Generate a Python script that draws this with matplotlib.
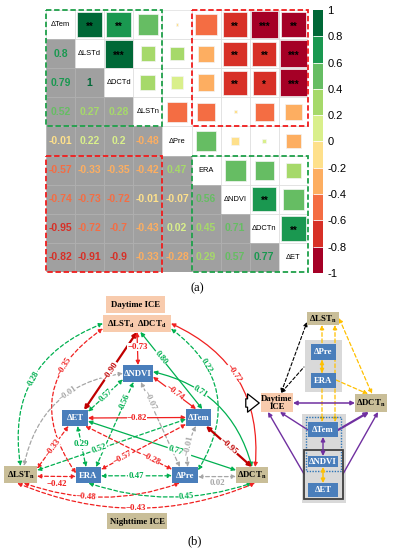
import numpy as np
import matplotlib.pyplot as plt
from matplotlib.colors import ListedColormap, BoundaryNorm
from matplotlib.colorbar import ColorbarBase
from matplotlib.patches import Rectangle, FancyArrowPatch

plt.rcParams['font.family'] = 'Liberation Sans'
plt.rcParams['mathtext.fontset'] = 'custom'
plt.rcParams['mathtext.rm'] = 'Liberation Serif:bold'
plt.rcParams['mathtext.bf'] = 'Liberation Serif:bold'
plt.rcParams['mathtext.it'] = 'Liberation Serif:bold'

# ---------------- (a) correlation matrix ----------------
variables = ['ΔTem', 'ΔLSTd', 'ΔDCTd', 'ΔLSTn', 'ΔPre', 'ERA', 'ΔNDVI', 'ΔDCTn', 'ΔET']
corr_lower = [
    [],
    [0.8],
    [0.79, 1],
    [0.52, 0.27, 0.28],
    [-0.01, 0.22, 0.2, -0.48],
    [-0.57, -0.33, -0.35, -0.42, 0.47],
    [-0.74, -0.73, -0.72, -0.01, -0.07, 0.56],
    [-0.95, -0.72, -0.7, -0.43, 0.02, 0.45, 0.71],
    [-0.82, -0.91, -0.9, -0.33, -0.28, 0.29, 0.57, 0.77],
]
signif = {(0, 1): '**', (0, 2): '**', (0, 6): '**', (0, 7): '***', (0, 8): '**',
          (1, 2): '***', (1, 6): '**', (1, 7): '**', (1, 8): '***',
          (2, 6): '**', (2, 7): '*', (2, 8): '***', (6, 7): '**', (7, 8): '**'}

# ---------------- (b) path diagram ----------------
path_pairs = [
    ('ET', 'day'), ('day', 'NDVI'), ('day', 'Tem'), ('NDVI', 'Tem'),
    ('NDVI', 'DCTn'), ('day', 'DCTn'), ('day', 'Pre'), ('day', 'LSTn'),
    ('day', 'ERA'), ('NDVI', 'LSTn'), ('NDVI', 'ET'), ('NDVI', 'ERA'),
    ('NDVI', 'Pre'), ('ET', 'Tem'), ('ET', 'DCTn'), ('Tem', 'DCTn'),
    ('Tem', 'Pre'), ('Tem', 'LSTn'), ('Tem', 'ERA'), ('ET', 'Pre'),
    ('ET', 'ERA'), ('ET', 'LSTn'), ('LSTn', 'ERA'), ('ERA', 'Pre'),
    ('Pre', 'DCTn'), ('LSTn', 'Pre'), ('ERA', 'DCTn'), ('LSTn', 'DCTn'),
]
path_values = [-0.90, -0.73, 0.80, -0.74, 0.71, -0.72, 0.22, 0.28,
               -0.35, -0.01, 0.57, 0.56, -0.07, -0.82, 0.77, -0.95,
               -0.01, 0.52, -0.57, -0.28, 0.29, -0.33, -0.42, 0.47,
               0.02, -0.48, 0.45, -0.43]
path_sig = [1, 1, 1, 1, 1, 1, 0, 0, 0, 0, 0, 0, 0, 1, 1, 1,
            0, 0, 0, 0, 0, 0, 0, 0, 0, 0, 0, 0]

# layout of the diagram (pixel space)
# (sideA, fracA, sideB, fracB, rad, label_t, rotate, label_dx, label_dy)
path_geom = [
    ('top', 0.85, 'bottom', 0.5, 0, 0.5, True, 0, 0),
    ('bottom', 0.5, 'top', 0.5, 0, 0.45, False, 0, 0),
    ('bottom', 0.55, 'top', 0.65, 0, 0.33, True, 0, 0),
    ('right', 0.7, 'top', 0.4, 0, 0.5, True, 0, 0),
    ('right', 0.4, 'top', 0.5, -0.3, 0.35, True, 0, 0),
    ('right', 0.5, 'top', 0.6, -0.35, 0.45, True, 0, 0),
    ('right', 0.8, 'right', 0.2, -0.45, 0.3, True, 0, 0),
    ('left', 0.5, 'top', 0.5, 0.4, 0.5, True, 0, 0),
    ('left', 0.8, 'left', 0.4, 0.5, 0.3, True, 0, 0),
    ('left', 0.5, 'top', 0.6, 0.35, 0.4, True, 0, 0),
    ('left', 0.85, 'right', 0.1, 0, 0.5, True, 0, 0),
    ('bottom', 0.35, 'top', 0.8, 0, 0.22, True, 0, 0),
    ('bottom', 0.6, 'top', 0.3, 0, 0.22, True, 0, 0),
    ('right', 0.5, 'left', 0.5, 0, 0.5, False, 0, 0),
    ('right', 0.7, 'left', 0.2, 0, 0.59, True, 0, 0),
    ('bottom', 0.8, 'top', 0.5, 0, 0.5, True, 0, 0),
    ('bottom', 0.4, 'top', 0.6, 0.15, 0.5, True, 0, 0),
    ('left', 0.6, 'right', 0.25, 0, 0.58, True, 0, 0),
    ('left', 0.9, 'right', 0.15, 0, 0.74, True, 0, 0),
    ('bottom', 0.9, 'left', 0.15, 0, 0.75, True, 0, 0),
    ('bottom', 0.6, 'top', 0.4, 0, 0.45, False, 0, 0),
    ('bottom', 0.25, 'right', 0.15, 0, 0.5, True, 0, 0),
    ('right', 0.6, 'left', 0.6, 0, 0.5, False, 0, 8),
    ('right', 0.55, 'left', 0.55, 0, 0.5, False, 0, 0),
    ('right', 0.6, 'left', 0.6, 0, 0.5, False, 0, 6),
    ('bottom', 0.6, 'bottom', 0.3, 0.18, 0.4, True, 0, 0),
    ('bottom', 0.5, 'bottom', 0.5, 0.17, 0.6, True, 0, 0),
    ('bottom', 0.4, 'bottom', 0.6, 0.21, 0.5, False, 0, 0),
]

PEACH, TAN, BLUE = '#f8cbad', '#c9be98', '#4a7ebb'
GREEN, RED, DARKRED, GRAY = '#00b050', '#f02020', '#c00000', '#a6a6a6'
PURPLE, GOLD = '#7030a0', '#ffc000'

# node boxes: x0, x1, y0, y1, face, text
boxes = {
    'dayICE': (106, 165, 296, 313, PEACH, 'Daytime ICE'),
    'day': (103, 171, 315, 332, PEACH, r'$\Delta$LST$_d$  $\Delta$DCT$_d$'),
    'NDVI': (123, 153, 365, 382, BLUE, 'ΔNDVI'),
    'ET': (62, 88, 410, 426, BLUE, 'ΔET'),
    'Tem': (186, 211, 409, 426, BLUE, 'ΔTem'),
    'LSTn': (4, 37, 466, 483, TAN, r'$\Delta$LST$_n$'),
    'ERA': (76, 101, 467, 483, BLUE, 'ERA'),
    'Pre': (172, 198, 467, 483, BLUE, 'ΔPre'),
    'DCTn': (236, 268, 467, 483, TAN, r'$\Delta$DCT$_n$'),
    'nightICE': (107, 167, 513, 529, TAN, 'Nighttime ICE'),
    'r_LSTn': (307, 339, 312, 325, TAN, r'$\Delta$LST$_n$'),
    'r_Pre': (311, 336, 344, 360, BLUE, 'ΔPre'),
    'r_ERA': (311, 336, 373, 388, BLUE, 'ERA'),
    'r_day': (261, 293, 393, 412, PEACH, 'Daytime\nICE'),
    'r_DCTn': (355, 387, 394, 412, TAN, r'$\Delta$DCT$_n$'),
    'r_Tem': (308, 338, 422, 437, BLUE, 'ΔTem'),
    'r_NDVI': (308, 338, 456, 467, BLUE, 'ΔNDVI'),
    'r_ET': (308, 338, 483, 497, BLUE, 'ΔET'),
}

W, H = 394, 550
fig = plt.figure(figsize=(W / 100, H / 100), dpi=100)

# ---------- diagram canvas ----------
ax = fig.add_axes([0, 0, 1, 1])
ax.set_xlim(0, W)
ax.set_ylim(H, 0)
ax.axis('off')
serif = 'Liberation Serif'


def anchor(name, side, f):
    x0, x1, y0, y1 = boxes[name][:4]
    if side == 'top':
        return (x0 + f * (x1 - x0), y0)
    if side == 'bottom':
        return (x0 + f * (x1 - x0), y1)
    if side == 'left':
        return (x0, y0 + f * (y1 - y0))
    return (x1, y0 + f * (y1 - y0))


def arrow(p1, p2, color, lw=0.9, ls='-', rad=0.0, style='<|-|>', z=2):
    a = FancyArrowPatch(p1, p2, arrowstyle=style, mutation_scale=6,
                        connectionstyle=f'arc3,rad={rad}', color=color, lw=lw,
                        linestyle=ls, shrinkA=0, shrinkB=0, zorder=z)
    ax.add_patch(a)


def curve_point(p1, p2, rad, t):
    P1 = ax.transData.transform(p1)
    P2 = ax.transData.transform(p2)
    d = P2 - P1
    C = (P1 + P2) / 2 + rad * np.array([d[1], -d[0]])
    B = (1 - t) ** 2 * P1 + 2 * (1 - t) * t * C + t ** 2 * P2
    tg = 2 * (1 - t) * (C - P1) + 2 * t * (P2 - C)
    ang = np.degrees(np.arctan2(tg[1], tg[0]))
    if ang > 90:
        ang -= 180
    if ang <= -90:
        ang += 180
    return ax.transData.inverted().transform(B), ang


for (a, b), v, sig, g in zip(path_pairs, path_values, path_sig, path_geom):
    sa, fa, sb, fb, rad, t, rot, ldx, ldy = g
    p1, p2 = anchor(a, sa, fa), anchor(b, sb, fb)
    if abs(v) < 0.1:
        col = GRAY
    elif v > 0:
        col = GREEN
    elif abs(v) >= 0.9:
        col = DARKRED
    else:
        col = RED
    lw = 1.6 if abs(v) >= 0.9 else 0.9
    ls = '-' if sig else (0, (3, 2))
    arrow(p1, p2, col, lw, ls, rad)
    pos, ang = curve_point(p1, p2, rad, t)
    txt = f'{v:.2f}'.replace('-', '−')
    ax.text(pos[0] + ldx, pos[1] + ldy, txt, color=col, fontsize=6.3, family=serif,
            fontweight='bold', rotation=ang if rot else 0, ha='center', va='center',
            rotation_mode='anchor', zorder=2.5,
            bbox=dict(fc='white', ec='none', pad=0.2))

# right-hand summary diagram: containers
ax.add_patch(Rectangle((305, 340), 37, 52, fc='#d9d9d9', ec='none', zorder=1))
ax.add_patch(Rectangle((302, 414), 44, 89, fc='#d9d9d9', ec='none', zorder=1))
ax.add_patch(Rectangle((306, 417), 35, 54, fc='none', ec='#2e75b6', lw=1.0,
                       ls=(0, (1, 1)), zorder=3.5))
ax.add_patch(Rectangle((304, 450), 39, 49, fc='none', ec='#404040', lw=1.3, zorder=3.5))

# right-hand summary diagram: links
arrow((281, 393), (307, 322), 'black', 0.8, (0, (3, 2)))
arrow((281, 393), (304, 367), 'black', 0.8, (0, (3, 2)), style='<|-')
arrow((293, 403), (355, 403), PURPLE, 1.1)
arrow((322, 325), (322, 422), GOLD, 0.9, (0, (3, 2)), z=1.5)
arrow((335, 325), (335, 422), GOLD, 0.9, (0, (3, 2)), z=1.5)
arrow((322, 360), (322, 373), GOLD, 0.9, (0, (2, 1)), z=3.5)
arrow((339, 318), (372, 394), GOLD, 0.9, (0, (3, 2)))
arrow((336, 380), (368, 394), GOLD, 0.9, (0, (3, 2)), style='-|>')
arrow((323, 437), (323, 456), PURPLE, 1.0, z=3.6)
arrow((323, 467), (323, 483), GOLD, 1.0, z=3.6)
arrow((280, 412), (308, 430), PURPLE, 1.0, style='<|-')
arrow((268, 412), (304, 474), PURPLE, 1.0, style='<|-')
arrow((369, 412), (338, 430), PURPLE, 1.6, style='<|-')
arrow((378, 412), (343, 474), PURPLE, 1.0, style='<|-')

ax.annotate('', xy=(262, 403), xytext=(243, 403),
            arrowprops=dict(arrowstyle='simple,head_length=0.7,head_width=1.1,tail_width=0.5',
                            fc='white', ec='black', lw=0.9, mutation_scale=12))

for name, (x0, x1, y0, y1, fc, label) in boxes.items():
    ax.add_patch(Rectangle((x0, y0), x1 - x0, y1 - y0, fc=fc, ec='none', zorder=3))
    tc = 'white' if fc == BLUE else 'black'
    ax.text((x0 + x1) / 2, (y0 + y1) / 2 + 0.5, label, color=tc, fontsize=6.3,
            family=serif, fontweight='bold', ha='center', va='center',
            linespacing=1.0, zorder=4)

ax.text(197, 288, '(a)', fontsize=9, family=serif, ha='center', va='center')
ax.text(195, 541, '(b)', fontsize=9, family=serif, ha='center', va='center')

# ---------- correlation matrix ----------
n = len(variables)
corr = np.eye(n)
for i, row in enumerate(corr_lower):
    for j, v in enumerate(row):
        corr[i, j] = corr[j, i] = v

colors = ['#a50026', '#d73027', '#f46d43', '#fdae61', '#fee08b',
          '#d9ef8b', '#a6d96a', '#66bd63', '#1a9850', '#006837']
cmap = ListedColormap(colors)
bounds = np.linspace(-1, 1, 11)
norm = BoundaryNorm(bounds, cmap.N)

axm = fig.add_axes([46 / W, 1 - 272 / H, 262 / W, 262 / H])
axm.set_xlim(-0.5, n - 0.5)
axm.set_ylim(n - 0.5, -0.5)
axm.axis('off')

for i in range(n):
    for j in range(n):
        v = corr[i, j]
        if i > j:
            axm.add_patch(Rectangle((j - 0.5, i - 0.5), 1, 1, fc='#a0a0a0', ec='#b0b0b0', lw=0.5))
            axm.text(j, i, f'{v:g}', color=cmap(norm(v * 0.8)), fontsize=7.5, fontweight='bold',
                     ha='center', va='center')
        elif i == j:
            axm.add_patch(Rectangle((j - 0.5, i - 0.5), 1, 1, fc='white', ec='#dddddd', lw=0.5))
            axm.text(j, i, variables[i], fontsize=5.4, ha='center', va='center')
        else:
            axm.add_patch(Rectangle((j - 0.5, i - 0.5), 1, 1, fc='white', ec='#dddddd', lw=0.5))
            s = np.sqrt(abs(v)) * 0.97
            axm.add_patch(Rectangle((j - s / 2, i - s / 2), s, s, fc=cmap(norm(v)),
                                    ec='#f4f4f4', lw=0.5))
            if (i, j) in signif:
                axm.text(j, i + 0.07, signif[(i, j)], fontsize=7, fontweight='bold',
                         ha='center', va='center')

for (r0, c0, col) in [(0, 0, '#1fa04a'), (0, 5, '#f01c1c'), (5, 0, '#f01c1c'), (5, 5, '#1fa04a')]:
    axm.add_patch(Rectangle((c0 - 0.5, r0 - 0.5), 4, 4, fc='none', ec=col, lw=1.3,
                            ls=(0, (3, 1.5)), clip_on=False, zorder=5))

cax = fig.add_axes([313 / W, 1 - 273 / H, 10 / W, 263 / H])
cb = ColorbarBase(cax, cmap=cmap, norm=norm, boundaries=bounds, ticks=bounds,
                  drawedges=True)
cb.outline.set_visible(False)
cb.dividers.set_color('white')
cb.dividers.set_linewidth(0.6)
cb.ax.set_yticklabels([f'{b:g}' for b in np.round(bounds, 1)])
cb.ax.tick_params(length=0, pad=3, labelsize=8)

fig.savefig('out.png', dpi=100)
